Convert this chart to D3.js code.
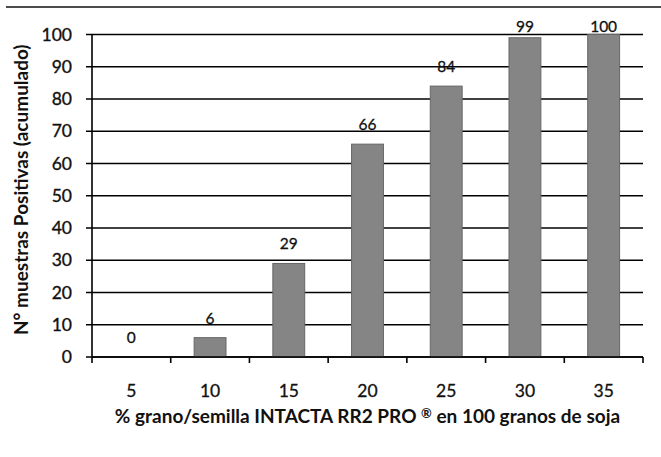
<!DOCTYPE html>
<html>
<head>
<meta charset="utf-8">
<script src="https://cdn.jsdelivr.net/npm/d3@7"></script>
<style>
  body { margin: 0; background: #fff; }
  svg { display: block; }
  text { font-family: Lato, "Open Sans", sans-serif; fill: #111; }
</style>
</head>
<body>
<div id="chart"></div>
<script>
// data
var categories = ["5", "10", "15", "20", "25", "30", "35"];
var values = [0, 6, 29, 66, 84, 99, 100];
var yTicks = [0, 10, 20, 30, 40, 50, 60, 70, 80, 90, 100];
var xTitleParts = ["% grano/semilla INTACTA RR2 PRO ", "\u00ae", " en 100 granos de soja"];
var yTitle = "N\u00b0 muestras Positivas (acumulado)";

var width = 661, height = 457;
var margin = {left: 92, top: 34.5, right: 18, bottom: 100};
var plotW = width - margin.left - margin.right;
var plotH = height - margin.top - margin.bottom;

var svg = d3.select("#chart").append("svg")
    .attr("width", width)
    .attr("height", height);

// scanned page border at the top
svg.append("line")
    .attr("x1", 6).attr("x2", width)
    .attr("y1", 7).attr("y2", 7)
    .attr("stroke", "#111").attr("stroke-width", 1.5);

var g = svg.append("g")
    .attr("transform", "translate(" + margin.left + "," + margin.top + ")");

var x = d3.scaleBand()
    .domain(categories)
    .range([0, plotW])
    .paddingInner(0.595)
    .paddingOuter(0.2975);

var y = d3.scaleLinear()
    .domain([0, 100])
    .range([plotH, 0]);

// gridlines
g.selectAll(".grid")
    .data(yTicks)
    .enter().append("line")
    .attr("class", "grid")
    .attr("x1", -6).attr("x2", plotW)
    .attr("y1", function (d) { return y(d); })
    .attr("y2", function (d) { return y(d); })
    .attr("stroke", "#000")
    .attr("stroke-width", 1.6);

// y axis labels
g.selectAll(".ylab")
    .data(yTicks)
    .enter().append("text")
    .attr("class", "ylab")
    .attr("x", -20)
    .attr("y", function (d) { return y(d); })
    .attr("dy", "0.35em")
    .attr("text-anchor", "end")
    .attr("font-size", "17.5px")
    .attr("stroke", "#111").attr("stroke-width", 0.35)
    .text(function (d) { return d; });

// y axis line
g.append("line")
    .attr("x1", 0).attr("x2", 0)
    .attr("y1", 0).attr("y2", plotH)
    .attr("stroke", "#000").attr("stroke-width", 1.6);

// bars
g.selectAll(".bar")
    .data(values)
    .enter().append("rect")
    .attr("class", "bar")
    .attr("x", function (d, i) { return x(categories[i]); })
    .attr("width", x.bandwidth())
    .attr("y", function (d) { return y(d); })
    .attr("height", function (d) { return plotH - y(d); })
    .attr("fill", "#858585")
    .attr("stroke", "#666")
    .attr("stroke-width", 1);

// value labels
g.selectAll(".vlab")
    .data(values)
    .enter().append("text")
    .attr("class", "vlab")
    .attr("x", function (d, i) { return x(categories[i]) + x.bandwidth() / 2; })
    .attr("y", function (d) { return Math.max(y(d) - 14, -3); })
    .attr("text-anchor", "middle")
    .attr("font-size", "15.5px")
    .attr("stroke", "#111").attr("stroke-width", 0.3)
    .text(function (d) { return d; });

// x axis
var xAxis = g.append("g")
    .attr("transform", "translate(0," + plotH + ")");
xAxis.append("line")
    .attr("x1", 0).attr("x2", plotW)
    .attr("y1", 0).attr("y2", 0)
    .attr("stroke", "#000").attr("stroke-width", 1.6);
var step = x.step();
xAxis.selectAll(".xtick")
    .data(d3.range(categories.length + 1))
    .enter().append("line")
    .attr("x1", function (d) { return d * step; })
    .attr("x2", function (d) { return d * step; })
    .attr("y1", 0).attr("y2", 6)
    .attr("stroke", "#000").attr("stroke-width", 1.6);
xAxis.selectAll(".xlab")
    .data(categories)
    .enter().append("text")
    .attr("x", function (d) { return x(d) + x.bandwidth() / 2; })
    .attr("y", 40)
    .attr("text-anchor", "middle")
    .attr("font-size", "17.5px")
    .attr("stroke", "#111").attr("stroke-width", 0.3)
    .text(function (d) { return d; });

// axis titles
var xt = g.append("text")
    .attr("x", plotW / 2)
    .attr("y", plotH + 66)
    .attr("text-anchor", "middle")
    .attr("font-size", "19px")
    .attr("font-weight", "bold");
xt.append("tspan").text(xTitleParts[0]);
xt.append("tspan").attr("font-size", "13px").attr("dy", -5).text(xTitleParts[1]);
xt.append("tspan").attr("dy", 5).text(xTitleParts[2]);

g.append("text")
    .attr("transform", "translate(" + (-64) + "," + (plotH / 2 - 6) + ") rotate(-90)")
    .attr("text-anchor", "middle")
    .attr("font-size", "19px")
    .attr("font-weight", "bold")
    .text(yTitle);
</script>
</body>
</html>
